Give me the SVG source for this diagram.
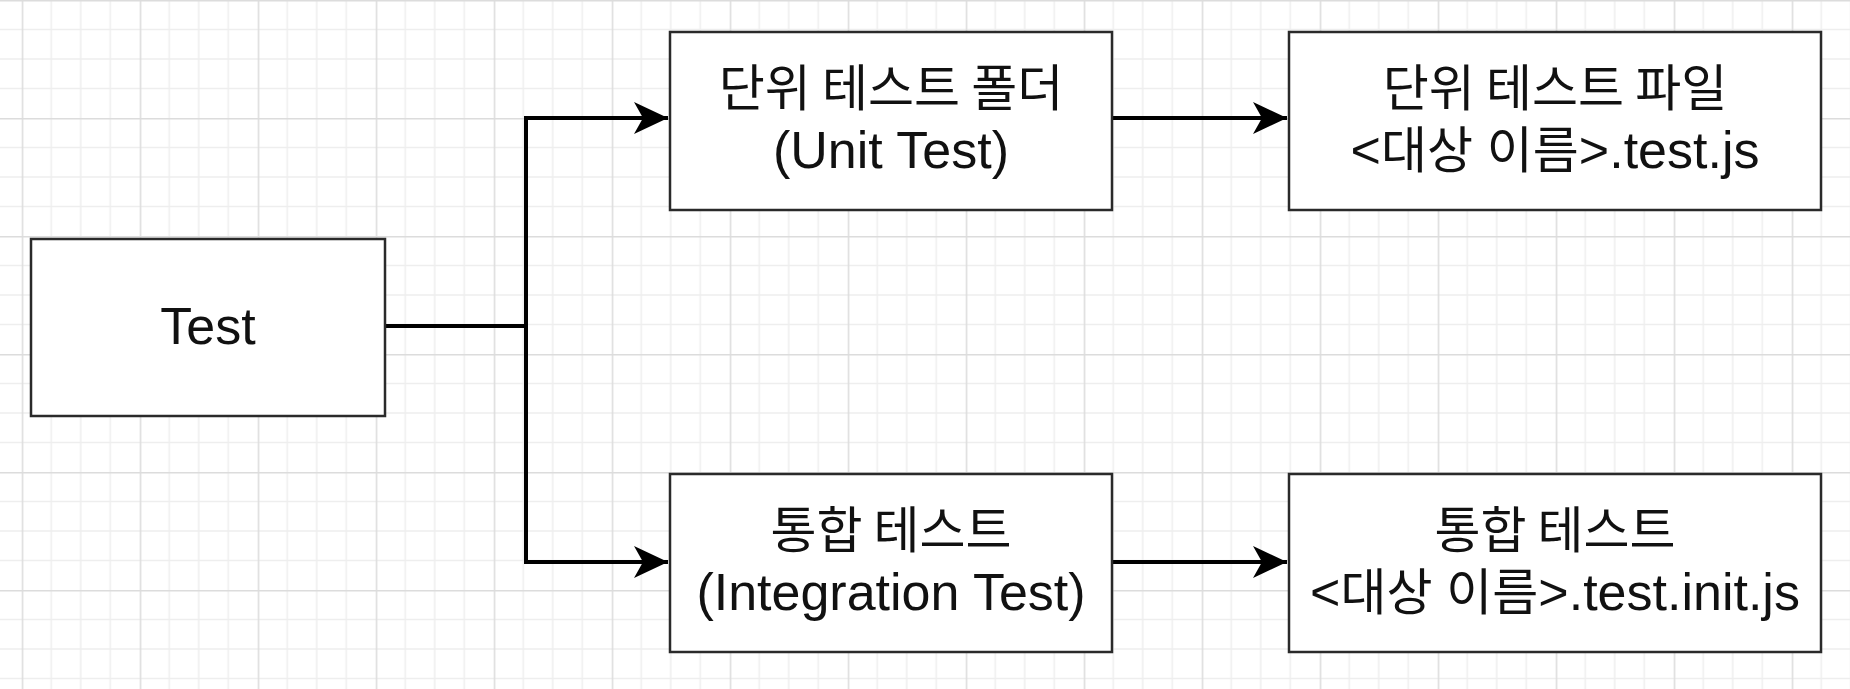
<svg xmlns="http://www.w3.org/2000/svg" width="1850" height="689" viewBox="0 0 1850 689">
<style>
.box{fill:#ffffff;stroke:#2a2a2a;stroke-width:2.5}
.t{font-family:"Liberation Sans","Noto Sans CJK KR",sans-serif;font-size:52px;fill:#111;text-anchor:middle}
.k{font-family:"Noto Sans CJK KR","Liberation Sans",sans-serif;font-size:50px}
.k2{font-size:50px}
.conn{fill:none;stroke:#000;stroke-width:4}
</style>
<defs>
<pattern id="grid" patternUnits="userSpaceOnUse" x="21.7" y="0" width="118" height="118">
<path d="M29.5 0V118M59 0V118M88.5 0V118M0 29.5H118M0 59H118M0 88.5H118" stroke="#eeeeee" stroke-width="1.5" fill="none"/>
<path d="M0.5 0V118M0 0.5H118" stroke="#dcdcdc" stroke-width="2" fill="none"/>
</pattern>
<marker id="arr" viewBox="0 0 34 32" refX="34" refY="16" markerWidth="34" markerHeight="32" markerUnits="userSpaceOnUse" orient="auto">
<path d="M0 0L34 16L0 32L9 16Z" fill="#000"/>
</marker>
</defs>
<rect width="1850" height="689" fill="#ffffff"/>
<rect width="1850" height="689" fill="url(#grid)"/>
<g id="connectors">
<path class="conn" d="M385 326H526V118H668" marker-end="url(#arr)"/>
<path class="conn" d="M526 326V562H668" marker-end="url(#arr)"/>
<path class="conn" d="M1112 118H1287" marker-end="url(#arr)"/>
<path class="conn" d="M1112 562H1287" marker-end="url(#arr)"/>
</g>
<g id="test">
<rect class="box" x="31" y="239" width="354" height="177"/>
<text class="t" x="208" y="344">Test</text>
</g>
<g id="unit-folder">
<rect class="box" x="670" y="32" width="442" height="178"/>
<text class="t" x="891" y="106"><tspan class="k">단위 테스트 폴더</tspan><tspan x="891" y="168">(Unit Test)</tspan></text>
</g>
<g id="unit-file">
<rect class="box" x="1289" y="32" width="532" height="178"/>
<text class="t" x="1555" y="106"><tspan class="k">단위 테스트 파일</tspan><tspan x="1555" y="168">&lt;</tspan><tspan class="k2">대상 이름</tspan><tspan>&gt;.test.js</tspan></text>
</g>
<g id="integration">
<rect class="box" x="670" y="474" width="442" height="178"/>
<text class="t" x="891" y="548"><tspan class="k">통합 테스트</tspan><tspan x="891" y="610">(Integration Test)</tspan></text>
</g>
<g id="integration-file">
<rect class="box" x="1289" y="474" width="532" height="178"/>
<text class="t" x="1555" y="548"><tspan class="k">통합 테스트</tspan><tspan x="1555" y="610">&lt;</tspan><tspan class="k2">대상 이름</tspan><tspan>&gt;.test.init.js</tspan></text>
</g>
</svg>
